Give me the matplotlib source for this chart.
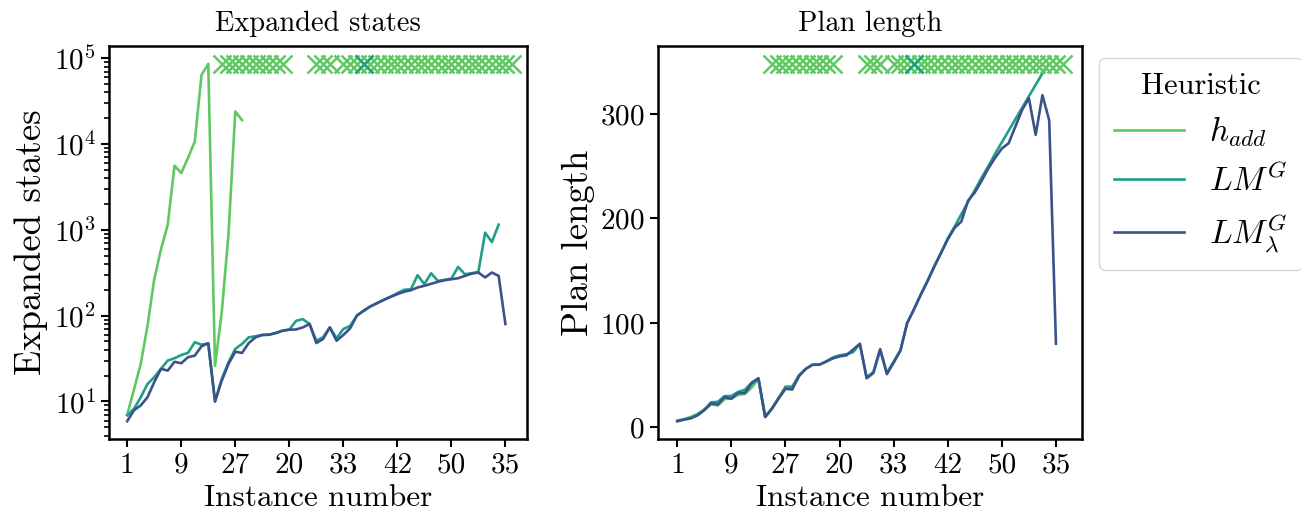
import numpy as np
import matplotlib
matplotlib.use('Agg')
import matplotlib.pyplot as plt

plt.rcParams['font.family'] = 'serif'
plt.rcParams['font.serif'] = ['cmr10']
plt.rcParams['mathtext.fontset'] = 'cm'
plt.rcParams['axes.formatter.use_mathtext'] = True

nan = np.nan

# instance labels shown every 8th position
tick_pos = [0, 8, 16, 24, 32, 40, 48, 56]
tick_labels = ['1', '9', '27', '20', '33', '42', '50', '35']

# expanded states per instance (index 0..56)
exp_hadd = [7, 13.8, 27.4, 76, 266, 594, 1150, 5600, 4600, 6900, 10700, 63800, 86000,
            26, 110, 900, 24000, 19000] + [nan] * 39
exp_lmg = [6.9, 8.2, 11.2, 16, 19.2, 24, 30, 31.9, 34.8, 36.8, 49, 45.9, 47.6,
           10, 18.4, 28.7, 41, 46.8, 56, 57.5, 59.6, 60, 62.8, 66.8, 68.7, 87, 91, 80,
           51, 56, 73, 54.5, 69.9, 76, 100, 114, 128, 140, 153, 166, 183, 200, 203,
           296, 233, 312, 254, 261, 270, 370, 304, 312, 324, 927, 721, 1150, nan]
exp_lml = [5.9, 7.9, 9.0, 11.2, 16.8, 24, 22.9, 29, 27.9, 32.8, 34.2, 44, 47.6,
           10, 17.5, 27.4, 38, 36.8, 48, 56, 59.6, 60, 62.8, 66.8, 68.7, 69, 73, 80,
           48, 53.5, 73, 51, 59.6, 71, 100, 114, 128, 140, 153, 166, 178, 190, 198,
           213, 223, 235, 248, 259, 266, 273, 291, 309, 318, 279, 318, 291, 80]

# plan length per instance
plan_hadd = [6.5, 8, 10, 13, 17, 22, 21, 27, 28, 31, 32, 38, 46,
             10, 18, 28, 37, 36.5] + [nan] * 39
plan_lmg = [6, 7.5, 9, 12, 17, 24, 24.5, 30, 30, 34, 36, 43, 47,
            10, 18, 28, 39, 39, 50, 56, 60, 60, 63, 67, 69, 70, 72, 80,
            48, 53, 75, 52, 63, 74, 100, 113, 127, 140, 154, 167, 181, 192, 204,
            216, 227, 239, 250, 262, 273, 284, 295, 306, 317, 328, 339, 348, nan]
plan_lml = [6, 7.5, 8.7, 11.6, 16.5, 23, 22, 29, 27.4, 33, 33, 42, 47,
            10, 18, 28, 37, 36.5, 49, 56, 60, 60, 63, 66, 68, 69, 74.5, 80,
            47, 52, 74.5, 51, 62, 73.5, 100, 113, 127, 140, 154, 167, 180, 191, 197,
            217, 225, 236, 248, 258, 267, 272, 288, 304, 315, 280, 318, 294, 80]

# instances marked as failed (x markers on top)
fail_hadd = list(range(14, 24)) + [28, 29, 30] + list(range(32, 58))
fail_lmg = [35]

labels = ['$h_{add}$', '$LM^G$', '$LM^G_\\lambda$']
colors = ['#5ec962', '#1f9e89', '#3b528b']

fig = plt.figure(figsize=(13.01, 5.29), dpi=100)
ax1 = fig.add_axes([109 / 1301, 1 - 439 / 529, 418 / 1301, 393 / 529])
ax2 = fig.add_axes([658 / 1301, 1 - 439 / 529, 424 / 1301, 393 / 529])


def draw(ax, series, title):
    x = np.arange(len(series[0]))
    handles = []
    for s, c, lab in zip(series, colors, labels):
        h, = ax.plot(x, s, color=c, lw=1.9, label=lab)
        handles.append(h)
    top = np.nanmax([np.nanmax(s) for s in series])
    ax.plot(fail_hadd, [top] * len(fail_hadd), ls='none', marker='x', ms=12.5, mew=1.8,
            color=colors[0])
    ax.plot(fail_lmg, [top] * len(fail_lmg), ls='none', marker='x', ms=12.5, mew=1.8,
            color=colors[1])
    ax.set_title(title, fontsize=20.5, pad=11)
    ax.set_ylabel(title, fontsize=26.5)
    ax.set_xlabel('Instance number', fontsize=22.5)
    ax.set_xticks(tick_pos)
    ax.set_xticklabels(tick_labels)
    ax.tick_params(labelsize=21, width=1.5, length=6)
    ax.tick_params(which='minor', width=1.2, length=3.5)
    for sp in ax.spines.values():
        sp.set_linewidth(1.8)
    return handles


draw(ax1, [exp_hadd, exp_lmg, exp_lml], 'Expanded states')
ax1.set_yscale('log')
ax1.set_xlim(-2.7, 59.2)

handles = draw(ax2, [plan_hadd, plan_lmg, plan_lml], 'Plan length')
ax2.set_yticks([0, 100, 200, 300])

ax2.legend(handles=handles, title='Heuristic', loc='upper left',
           bbox_to_anchor=(1.04, 0.97), borderaxespad=0, fontsize=24,
           title_fontsize=22, handlelength=2.1, labelspacing=0.42,
           handletextpad=0.75, borderpad=0.45)

fig.savefig('out.png', dpi=100)
